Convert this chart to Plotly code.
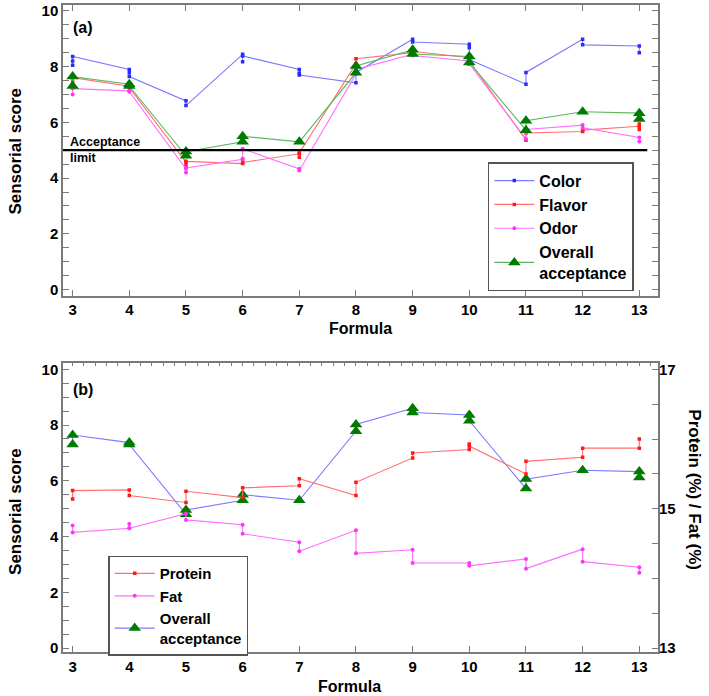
import numpy as np
import plotly.graph_objects as go

# formula numbers on the x axis
formulas = [3, 4, 5, 6, 7, 8, 9, 10, 11, 12, 13]

# panel (a): sensory scores, replicate readings per formula in drawing order
color_scores = [[8.05, 8.2, 8.36], [7.9, 7.78, 7.64], [6.77, 6.6], [8.44, 8.17, 8.38],
                [7.9, 7.76, 7.7], [7.42, 7.79], [8.98, 8.88], [8.8, 8.68, 8.25],
                [7.37, 7.79], [8.98, 8.78], [8.74, 8.5]]
flavor_scores = [[7.45, 7.6], [7.3, 7.25], [4.57, 4.45, 4.6], [4.52, 4.68, 4.56],
                 [4.87, 4.75, 4.9], [8.1, 8.28], [8.5, 8.44, 8.55], [8.32, 8.08, 8.2],
                 [5.36, 5.62], [5.67, 5.72], [5.86, 5.74, 5.94]]
odor_scores = [[7.0, 7.21], [7.13, 7.1], [4.33, 4.2, 4.36], [4.67, 5.05],
               [4.33, 4.27], [7.73, 7.9], [8.44, 8.4], [8.2, 8.1],
               [5.4, 5.74], [5.9, 5.8], [5.46, 5.31]]
overall_scores = [[7.3, 7.64], [7.37, 7.3], [4.8, 4.95], [5.3, 5.5], [5.3],
                  [7.78, 8.02], [8.6, 8.45], [8.36, 8.15], [5.72, 6.06],
                  [6.38], [6.33, 6.12]]

# panel (b): composition (%), right axis
protein_pct = [[15.14, 15.26], [15.27, 15.19], [15.09, 15.25], [15.16, 15.3],
               [15.33, 15.43], [15.19, 15.38], [15.73, 15.8], [15.85, 15.93, 15.9],
               [15.5, 15.68], [15.74, 15.87], [15.87, 16.0]]
fat_pct = [[14.76, 14.66], [14.72, 14.78, 14.72], [14.93, 14.84], [14.77, 14.64],
           [14.52, 14.39], [14.69, 14.36], [14.41, 14.22], [14.22, 14.18],
           [14.28, 14.14], [14.42, 14.24], [14.16, 14.08]]

ACCEPTANCE_LIMIT = 5

FONT = "Liberation Sans, Arial, sans-serif"
AXIS_GREY = "#7a7a7a"


def flatten(reps):
    xs, ys = [], []
    for f, vals in zip(formulas, reps):
        for v in vals:
            xs.append(f)
            ys.append(v)
    return xs, ys


def series(reps, name, line_color, marker, xaxis, yaxis, legend):
    xs, ys = flatten(reps)
    return go.Scatter(x=xs, y=ys, name=name, mode="lines+markers",
                      line=dict(color=line_color, width=1.1),
                      marker=marker, xaxis=xaxis, yaxis=yaxis, legend=legend)


fig = go.Figure()

# panel (a)
fig.add_trace(series(color_scores, "Color", "#7b7bff",
                     dict(symbol="square", size=3.5, color="#2b2bff"), "x", "y", "legend"))
fig.add_trace(series(flavor_scores, "Flavor", "#ff6f6f",
                     dict(symbol="square", size=3.5, color="#ff1a1a"), "x", "y", "legend"))
fig.add_trace(series(odor_scores, "Odor", "#ff6fff",
                     dict(symbol="circle", size=4, color="#ff33ff"), "x", "y", "legend"))
fig.add_trace(series(overall_scores, "Overall<br>acceptance", "#5cb85c",
                     dict(symbol="triangle-up", size=11, color="#007a00"), "x", "y", "legend"))

# panel (b)
fig.add_trace(series(protein_pct, "Protein", "#ff6f6f",
                     dict(symbol="square", size=3.5, color="#ff1a1a"), "x2", "y3", "legend2"))
fig.add_trace(series(fat_pct, "Fat", "#ff6fff",
                     dict(symbol="circle", size=4, color="#ff33ff"), "x2", "y3", "legend2"))
fig.add_trace(series(overall_scores, "Overall<br>acceptance", "#7b7bff",
                     dict(symbol="triangle-up", size=11, color="#007a00"), "x2", "y2", "legend2"))

score_ticks = list(np.arange(0, 10.01, 0.5))
score_text = [str(int(v)) if v % 2 == 0 else "" for v in score_ticks]
pct_ticks = list(np.arange(13, 17.01, 0.5))
pct_text = [str(int(v)) if v in (13, 15, 17) else "" for v in pct_ticks]

tickfont = dict(family=FONT, size=15, color="black", weight="bold")
common_x = dict(range=[2.83, 13.33], tickvals=formulas, ticks="inside", ticklen=6,
                tickcolor=AXIS_GREY, linecolor=AXIS_GREY, linewidth=1.5,
                showgrid=False, zeroline=False, tickfont=tickfont)
common_y = dict(tickvals=score_ticks, ticktext=score_text, ticks="inside", ticklen=6,
                tickcolor=AXIS_GREY, linecolor=AXIS_GREY, linewidth=1.5,
                showgrid=False, zeroline=False, tickfont=tickfont)

fig.update_layout(
    width=709, height=696,
    margin=dict(l=63, r=51, t=2, b=44),
    paper_bgcolor="white", plot_bgcolor="white",
    font=dict(family=FONT, color="black"),
    xaxis=dict(common_x, anchor="y", mirror="ticks", domain=[0, 1]),
    yaxis=dict(common_y, anchor="x", mirror="ticks", domain=[0.551, 1.0],
               range=[-0.214, 10.21]),
    xaxis2=dict(common_x, anchor="y2", mirror=True, domain=[0, 1]),
    yaxis2=dict(common_y, anchor="x2", mirror=True, domain=[0, 0.446],
                range=[-0.143, 10.21]),
    xaxis3=dict(range=[2.83, 13.33], overlaying="x2", anchor="y2", side="top",
                tickvals=list(np.arange(2.8, 13.31, 0.2)), ticks="inside", ticklen=3,
                tickcolor=AXIS_GREY, showticklabels=False, showline=False,
                showgrid=False, zeroline=False),
    yaxis3=dict(range=[12.943, 17.086], overlaying="y2", anchor="x2", side="right",
                tickvals=pct_ticks, ticktext=pct_text, ticks="inside", ticklen=6,
                tickcolor=AXIS_GREY, showline=False, showgrid=False,
                zeroline=False, tickfont=tickfont),
    legend=dict(x=0.714, y=0.757, xanchor="left", yanchor="top",
                bordercolor="#555555", borderwidth=1.5, bgcolor="white",
                font=dict(family=FONT, size=16, color="black", weight="bold"),
                itemwidth=40, tracegroupgap=0),
    legend2=dict(x=0.076, y=0.149, xanchor="left", yanchor="top",
                 bordercolor="#555555", borderwidth=1.5, bgcolor="white",
                 font=dict(family=FONT, size=15, color="black", weight="bold"),
                 itemwidth=40),
    showlegend=True,
)

# xaxis3 only carries the fine ticks along the top of panel (b)
fig.add_trace(go.Scatter(x=[formulas[0]], y=[0], xaxis="x3", yaxis="y2",
                         mode="markers", marker=dict(opacity=0),
                         showlegend=False, hoverinfo="skip"))

fig.add_shape(type="line", xref="x domain", yref="y", x0=0, x1=0.982,
              y0=ACCEPTANCE_LIMIT, y1=ACCEPTANCE_LIMIT,
              line=dict(color="black", width=2.2))

title_font = dict(family=FONT, size=17, color="black", weight="bold")
label_font = dict(family=FONT, size=16, color="black", weight="bold")
fig.add_annotation(text="Acceptance<br>limit", xref="x domain", yref="y", x=0.008,
                   y=ACCEPTANCE_LIMIT, xanchor="left", yanchor="middle", align="left",
                   showarrow=False,
                   font=dict(family=FONT, size=12.5, color="black", weight="bold"))
fig.add_annotation(text="(a)", xref="paper", yref="paper", x=0.013, y=0.965,
                   xanchor="left", yanchor="middle", showarrow=False, font=label_font)
fig.add_annotation(text="(b)", xref="paper", yref="paper", x=0.013, y=0.405,
                   xanchor="left", yanchor="middle", showarrow=False, font=label_font)
fig.add_annotation(text="Sensorial score", xref="paper", yref="paper", x=-0.079,
                   y=0.775, textangle=-90, showarrow=False, xanchor="center",
                   yanchor="middle", font=title_font)
fig.add_annotation(text="Sensorial score", xref="paper", yref="paper", x=-0.079,
                   y=0.218, textangle=-90, showarrow=False, xanchor="center",
                   yanchor="middle", font=title_font)
fig.add_annotation(text="Protein (%) / Fat (%)", xref="paper", yref="paper", x=1.062,
                   y=0.25, textangle=90, showarrow=False, xanchor="center",
                   yanchor="middle", font=title_font)
fig.add_annotation(text="Formula", xref="paper", yref="paper", x=0.5, y=0.50,
                   showarrow=False, xanchor="center", yanchor="middle", font=label_font)
fig.add_annotation(text="Formula", xref="paper", yref="paper", x=0.482, y=-0.054,
                   showarrow=False, xanchor="center", yanchor="middle", font=label_font)

fig.write_html("out.html", config={"displayModeBar": False},
               post_script="document.body.style.margin='0';")
